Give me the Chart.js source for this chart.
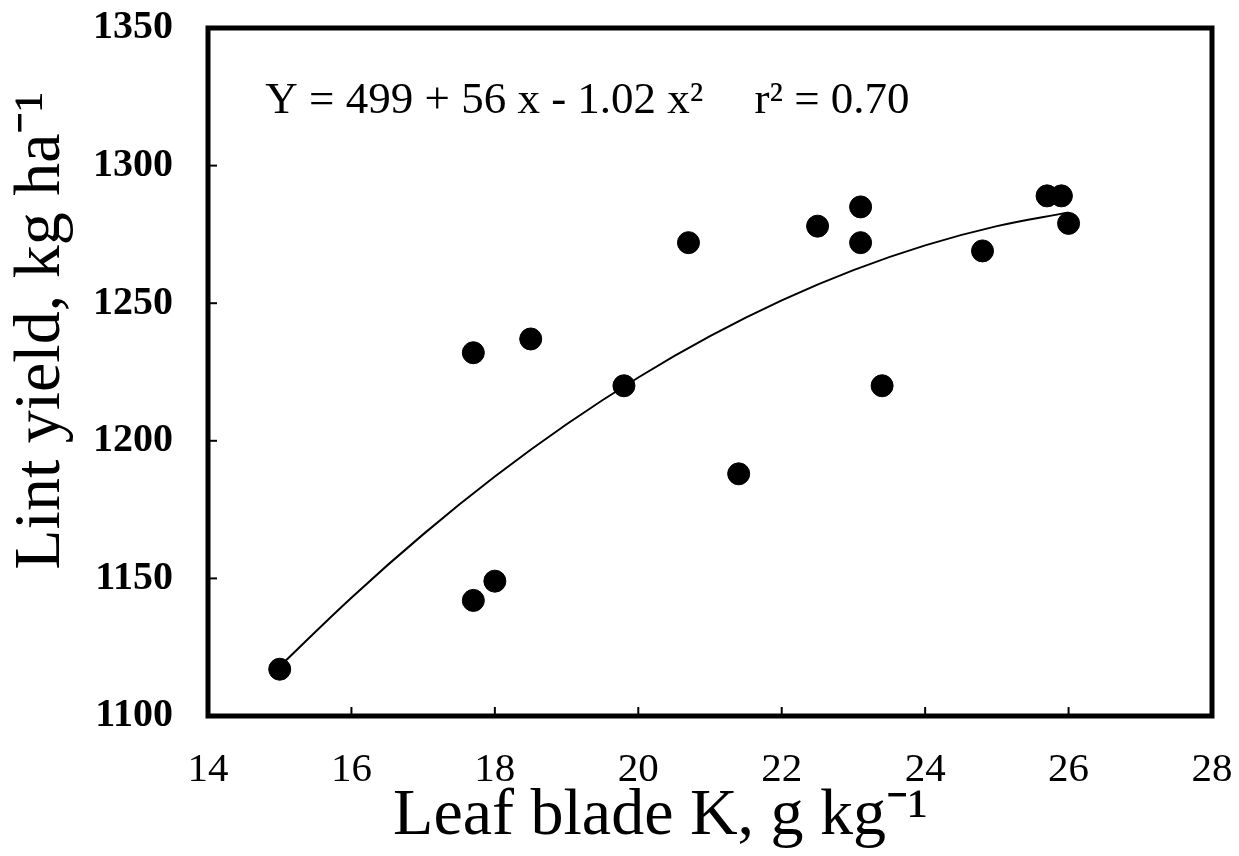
<!DOCTYPE html>
<html>
<head>
<meta charset="utf-8">
<script src="https://cdn.jsdelivr.net/npm/chart.js@4.4.1/dist/chart.umd.min.js"></script>
<style>
  html, body { margin: 0; padding: 0; background: #fff; }
  #wrap { width: 1239px; height: 856px; }
</style>
</head>
<body>
<div id="wrap"><canvas id="myChart" width="1239" height="856"></canvas></div>
<script>
// observed points
const leafK = [15.0, 17.7, 17.7, 18.0, 18.5, 19.8, 20.7, 21.4, 22.5, 23.1, 23.1, 23.4, 24.8, 25.7, 25.9, 26.0]
const lintYield = [1117, 1232, 1142, 1149, 1237, 1220, 1272, 1188, 1278, 1285, 1272, 1220, 1269, 1289, 1289, 1279]

// fitted curve as drawn
const fitK = [15, 16, 17, 18, 19, 20, 21, 22, 23, 24, 25, 26]
const fitYield = [1118, 1143, 1166, 1187, 1206, 1223, 1238, 1251, 1262, 1271, 1278, 1283]

const xTicks = [14, 16, 18, 20, 22, 24, 26, 28]
const yTicks = [1100, 1150, 1200, 1250, 1300, 1350]

const equation = 'Y = 499 + 56 x - 1.02 x²'
const rSquared = 'r² = 0.70'

const serif = '"Liberation Serif", "Times New Roman", serif'

const ctx = document.getElementById('myChart')

// frame, inward ticks and equation text
const framePlugin = {
    id: 'frame',
    afterDatasetsDraw(chart) {
        const c = chart.ctx
        const a = chart.chartArea
        const xs = chart.scales.x
        const ys = chart.scales.y
        c.save()
        c.strokeStyle = '#000'
        c.lineWidth = 2
        xTicks.forEach(v => {
            const px = xs.getPixelForValue(v)
            c.beginPath(); c.moveTo(px, a.bottom); c.lineTo(px, a.bottom - 9); c.stroke()
        })
        yTicks.forEach(v => {
            const py = ys.getPixelForValue(v)
            c.beginPath(); c.moveTo(a.left, py); c.lineTo(a.left + 9, py); c.stroke()
        })
        c.lineWidth = 5
        c.strokeRect(a.left, a.top, a.right - a.left, a.bottom - a.top)
        c.fillStyle = '#000'
        c.font = '45px ' + serif
        c.textBaseline = 'middle'
        c.fillText(equation, xs.getPixelForValue(14.8), ys.getPixelForValue(1323.5))
        c.fillText(rSquared, xs.getPixelForValue(21.62), ys.getPixelForValue(1323.5))
        c.restore()
    }
}

const data = {
    datasets: [{
        type: 'scatter',
        data: leafK.map((k, i) => ({x: k, y: lintYield[i]})),
        backgroundColor: '#000',
        borderColor: '#000',
        pointRadius: 11,
        pointHoverRadius: 11
    }, {
        type: 'line',
        data: fitK.map((k, i) => ({x: k, y: fitYield[i]})),
        borderColor: '#000',
        borderWidth: 2,
        pointRadius: 0,
        fill: false,
        tension: 0.4
    }]
}

const config = {
    type: 'scatter',
    data: data,
    options: {
        responsive: false,
        animation: false,
        layout: { padding: { top: 28, right: 27, left: 0, bottom: 0 } },
        plugins: { legend: { display: false }, tooltip: { enabled: false } },
        scales: {
            x: {
                type: 'linear', min: 14, max: 28,
                afterBuildTicks: s => { s.ticks = xTicks.map(v => ({value: v})) },
                afterFit: s => { s.height = 140; s.paddingLeft = 0; s.paddingRight = 0 },
                grid: { display: false },
                border: { display: false },
                ticks: { color: '#000', padding: 22, font: { family: serif, size: 41 }, callback: v => String(v) },
                title: {
                    display: true, text: 'Leaf blade K, g kg⁻¹      ', color: '#000',
                    font: { family: serif, size: 66 }, padding: { top: 0, bottom: 0 }
                }
            },
            y: {
                type: 'linear', min: 1100, max: 1350,
                afterBuildTicks: s => { s.ticks = yTicks.map(v => ({value: v})) },
                afterFit: s => { s.width = 208; s.paddingTop = 0; s.paddingBottom = 0 },
                grid: { display: false },
                border: { display: false },
                ticks: { color: '#000', padding: 27, font: { family: serif, size: 40, weight: 'bold' }, callback: v => String(v) },
                title: {
                    display: true, text: '     Lint yield, kg ha⁻¹', color: '#000',
                    font: { family: serif, size: 66 }, padding: { top: 2, bottom: 0 }
                }
            }
        }
    },
    plugins: [framePlugin]
}

const myChart = new Chart(ctx, config)
</script>
</body>
</html>
